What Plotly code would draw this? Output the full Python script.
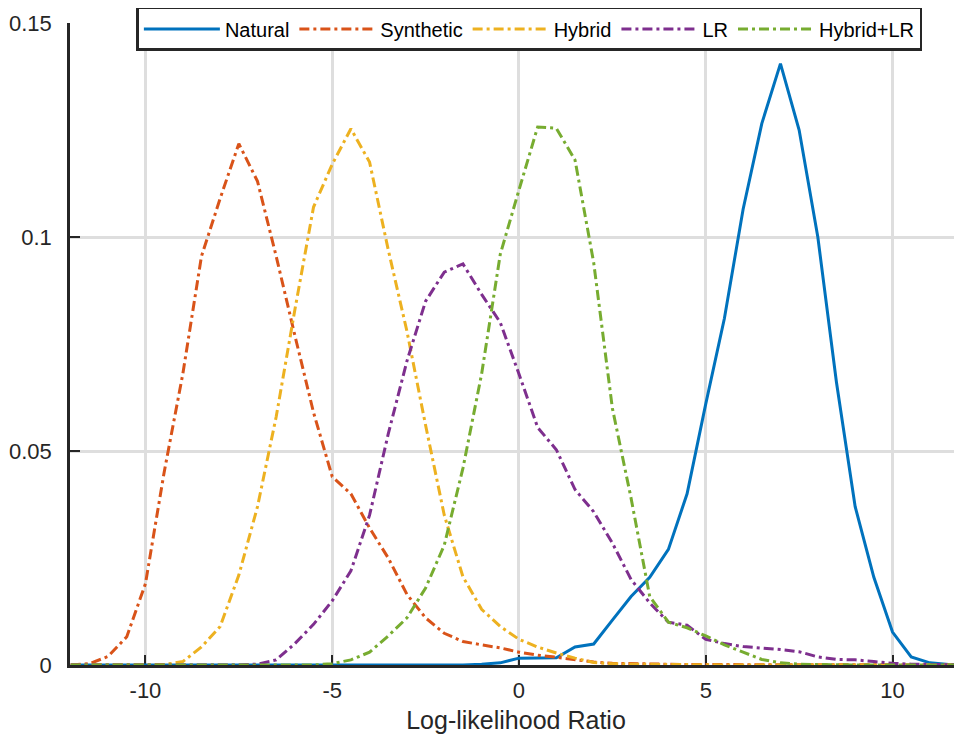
import plotly.graph_objects as go

# x positions (log-likelihood ratio bin centres)
llr = [-12, -11.5, -11, -10.5, -10, -9.5, -9, -8.5, -8, -7.5, -7, -6.5,
       -6, -5.5, -5, -4.5, -4, -3.5, -3, -2.5, -2, -1.5, -1, -0.5,
       0, 0.5, 1, 1.5, 2, 2.5, 3, 3.5, 4, 4.5, 5, 5.5,
       6, 6.5, 7, 7.5, 8, 8.5, 9, 9.5, 10, 10.5, 11, 11.5, 12]

natural = [0, 0, 0, 0, 0, 0, 0, 0, 0, 0, 0, 0,
           0, 0, 0, 0, 0, 0, 0, 0, 0, 0, 0.0002, 0.0005,
           0.0016, 0.0016, 0.0017, 0.0042, 0.0049, 0.0105, 0.016, 0.0205, 0.027, 0.040, 0.061, 0.081,
           0.1065, 0.1265, 0.1405, 0.125, 0.100, 0.066, 0.037, 0.0205, 0.0077, 0.0019, 0.0005, 0.0001, 0]

synthetic = [0, 0.0003, 0.002, 0.0066, 0.019, 0.045, 0.068, 0.0955, 0.109, 0.1218, 0.113, 0.0955,
             0.077, 0.059, 0.044, 0.040, 0.032, 0.025, 0.0165, 0.011, 0.0074, 0.0055, 0.0047, 0.004,
             0.003, 0.0023, 0.0018, 0.0012, 0.0007, 0.0004, 0.0003, 0.0002, 0.0002, 0.0001, 0.0001, 0.0001,
             0.0001, 0, 0, 0, 0, 0, 0, 0, 0, 0, 0, 0, 0]

hybrid = [0, 0, 0, 0, 0, 0.0001, 0.0008, 0.0042, 0.009, 0.021, 0.037, 0.058,
          0.083, 0.107, 0.117, 0.1253, 0.1175, 0.097, 0.078, 0.056, 0.035, 0.0206, 0.013, 0.009,
          0.006, 0.0042, 0.0028, 0.0016, 0.0006, 0.0003, 0.0002, 0.0001, 0.0001, 0.0001, 0, 0,
          0, 0, 0, 0, 0, 0, 0, 0, 0, 0, 0, 0, 0]

lr = [0, 0, 0, 0, 0, 0, 0, 0, 0, 0, 0.0002, 0.0012,
      0.005, 0.0095, 0.015, 0.022, 0.035, 0.054, 0.071, 0.085, 0.0918, 0.0937, 0.0866, 0.080,
      0.068, 0.0555, 0.0503, 0.041, 0.0358, 0.0285, 0.020, 0.0145, 0.010, 0.0093, 0.006, 0.005,
      0.0043, 0.004, 0.0036, 0.0031, 0.0019, 0.0013, 0.0012, 0.0008, 0.0004, 0.0002, 0.0001, 0, 0]

hybrid_lr = [0, 0, 0, 0, 0, 0, 0, 0, 0, 0, 0, 0,
             0, 0, 0.0003, 0.0012, 0.003, 0.0068, 0.011, 0.018, 0.028, 0.046, 0.068, 0.096,
             0.111, 0.1257, 0.1254, 0.118, 0.094, 0.060, 0.039, 0.016, 0.010, 0.0087, 0.0068, 0.0047,
             0.003, 0.0013, 0.0005, 0.0002, 0.0001, 0, 0, 0, 0, 0, 0, 0, 0]

series_names = ["Natural", "Synthetic", "Hybrid", "LR", "Hybrid+LR"]
series_values = [natural, synthetic, hybrid, lr, hybrid_lr]
series_colors = ["#0072BD", "#D95319", "#EDB120", "#7E2F8E", "#77AC30"]
dashdot = "10px,4px,3px,4px"
series_dash = ["solid", dashdot, dashdot, dashdot, dashdot]

y_tickvals = [0, 0.05, 0.1, 0.15]
y_ticktext = ["0", "0.05", "0.1", "0.15"]
x_tickvals = [-10, -5, 0, 5, 10]
x_ticktext = ["-10", "-5", "0", "5", "10"]

FONT = "Liberation Sans, Arial, Helvetica, sans-serif"
AX = "#262626"

fig = go.Figure()
for name, vals, col, dash in zip(series_names, series_values, series_colors, series_dash):
    fig.add_trace(go.Scatter(x=llr, y=vals, name=name, mode="lines",
                             line=dict(color=col, width=3, dash=dash)))

# page body has an 8px default margin: figure is shifted by 8px and sized to end at the window edge
fig.update_layout(
    width=954, height=729,
    margin=dict(l=62, r=0, t=15, b=72, autoexpand=False),
    paper_bgcolor="white", plot_bgcolor="white",
    font=dict(family=FONT, size=22, color=AX),
    showlegend=True,
    legend=dict(orientation="h", x=0.515, xanchor="center", y=0.9907, yanchor="middle",
                bgcolor="white", bordercolor=AX, borderwidth=2.5,
                font=dict(family=FONT, size=20, color="black"),
                itemwidth=76, tracegroupgap=0),
    xaxis=dict(range=[-12.02, 11.86], tickvals=x_tickvals, ticktext=x_ticktext,
               ticks="inside", ticklen=10, tickwidth=2, tickcolor=AX,
               showline=True, linecolor=AX, linewidth=2.5,
               showgrid=True, gridcolor="#dedede", gridwidth=2.5,
               zeroline=False, layer="below traces", ticklabelstandoff=4,
               tickfont=dict(size=22, color=AX),
               title=dict(text="Log-likelihood Ratio", font=dict(size=25, color=AX), standoff=10)),
    yaxis=dict(range=[0, 0.15], tickvals=y_tickvals, ticktext=y_ticktext,
               ticks="inside", ticklen=10, tickwidth=2, tickcolor=AX,
               showline=True, linecolor=AX, linewidth=2.5,
               showgrid=True, gridcolor="#dedede", gridwidth=2.5,
               zeroline=False, layer="below traces", ticklabelstandoff=11,
               tickfont=dict(size=22, color=AX)),
)

fig.write_html("out.html",
               post_script="document.documentElement.style.overflow='hidden';"
                           "document.body.style.overflow='hidden';")
